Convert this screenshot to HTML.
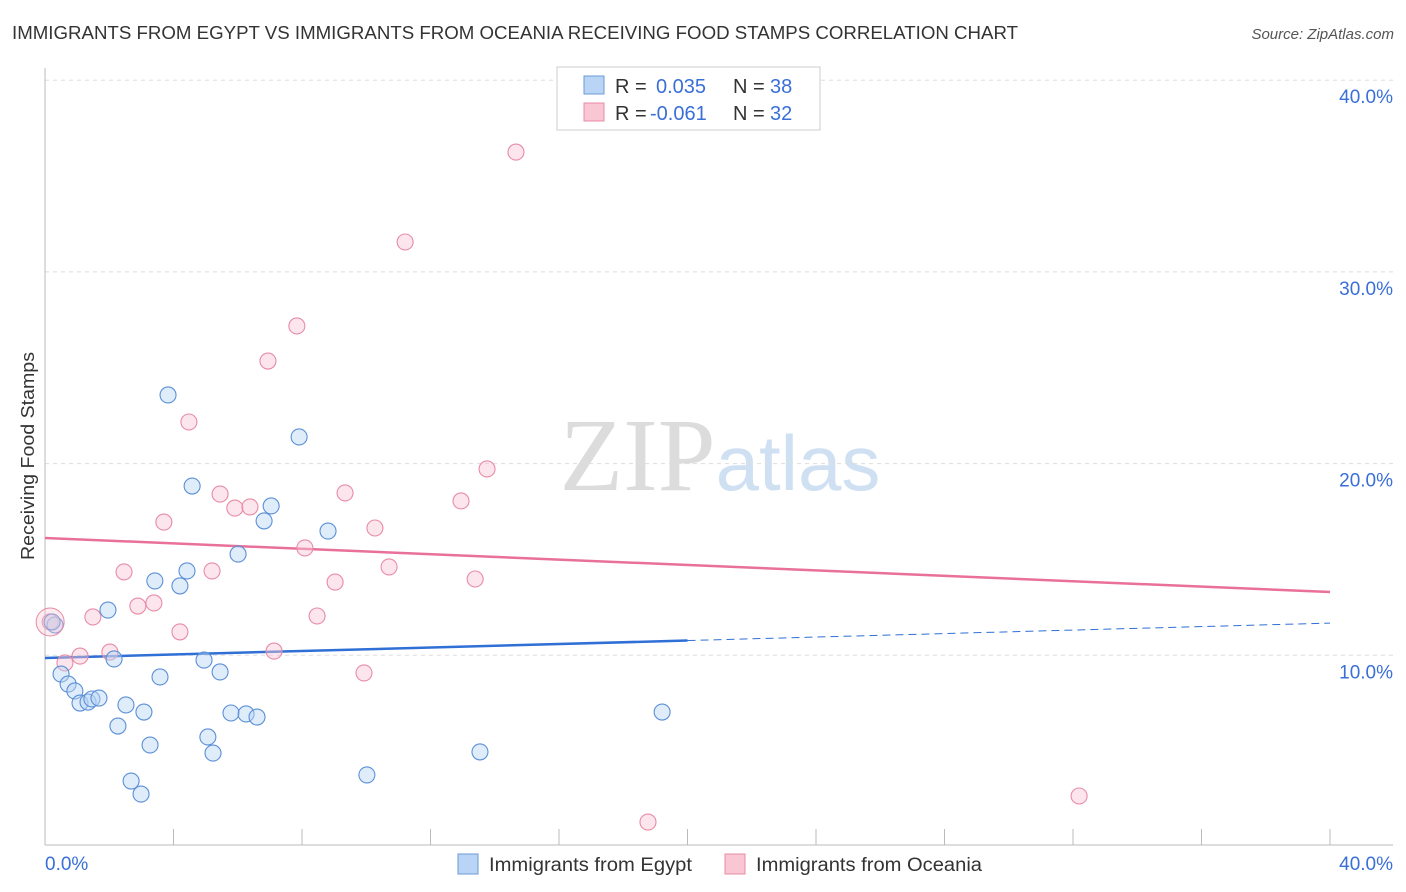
<!DOCTYPE html>
<html><head><meta charset="utf-8"><style>
body{margin:0;background:#fff;font-family:"Liberation Sans",sans-serif;}
svg{display:block}
</style></head><body>
<svg id="chart" width="1406" height="892" xmlns="http://www.w3.org/2000/svg">
<text x="12" y="39" font-size="18" fill="#333" textLength="1006" lengthAdjust="spacingAndGlyphs">IMMIGRANTS FROM EGYPT VS IMMIGRANTS FROM OCEANIA RECEIVING FOOD STAMPS CORRELATION CHART</text>
<text x="1394" y="39" font-size="15" fill="#555" text-anchor="end" font-style="italic">Source: ZipAtlas.com</text>
<text x="720" y="490" font-size="104" text-anchor="middle" fill="#ddd" font-family="Liberation Serif"><tspan fill="#dcdcdc">ZIP</tspan><tspan fill="#cfe0f3" font-family="Liberation Sans" font-size="78">atlas</tspan></text>
<text transform="translate(34,456) rotate(-90)" font-size="18" fill="#333" text-anchor="middle" textLength="208" lengthAdjust="spacingAndGlyphs">Receiving Food Stamps</text>
<g id="grid"></g><g id="axes"></g><g id="trend"></g><g id="pts"></g>
<g>
<rect x="557" y="67" width="263" height="63" fill="#fff" stroke="#ccc"/>
<rect x="584" y="76" width="20" height="18" fill="#b9d4f5" stroke="#6b9bd8"/>
<rect x="584" y="103" width="20" height="18" fill="#f9c6d4" stroke="#e88ba6"/>
<text x="615" y="93" font-size="20" fill="#333">R = <tspan fill="#3a6fd8" x="656">0.035</tspan><tspan x="733">N = </tspan><tspan fill="#3a6fd8" x="770">38</tspan></text>
<text x="615" y="120" font-size="20" fill="#333">R = <tspan fill="#3a6fd8" x="650">-0.061</tspan><tspan x="733">N = </tspan><tspan fill="#3a6fd8" x="770">32</tspan></text>
</g>
<g>
<rect x="458" y="854" width="20" height="20" fill="#b9d4f5" stroke="#6b9bd8"/>
<text x="489" y="871" font-size="19" fill="#333" textLength="203" lengthAdjust="spacingAndGlyphs">Immigrants from Egypt</text>
<rect x="725" y="854" width="20" height="20" fill="#f9c6d4" stroke="#e88ba6"/>
<text x="756" y="871" font-size="19" fill="#333" textLength="226" lengthAdjust="spacingAndGlyphs">Immigrants from Oceania</text>
</g>
<text x="45" y="870" font-size="19" fill="#3a6fd8">0.0%</text>
<text x="1393" y="870" font-size="19" fill="#3a6fd8" text-anchor="end">40.0%</text>
</svg>
<script>
const yTicks=[10,20,30,40];
const yTickLabels=["10.0%","20.0%","30.0%","40.0%"];
const egyptX=[0.31,0.22,0.50,0.72,0.93,1.09,1.34,1.46,1.68,1.96,2.15,2.27,2.52,2.68,2.99,3.08,3.27,3.42,3.58,3.83,4.20,4.42,4.58,4.95,5.07,5.23,5.45,5.79,6.01,6.26,6.60,6.82,7.04,7.91,8.81,10.02,13.54,19.21];
const egyptY=[11.58,11.74,9.02,8.50,8.14,7.51,7.56,7.72,7.77,12.36,9.81,6.31,7.41,3.44,2.76,7.04,5.32,13.88,8.87,23.58,13.62,14.40,18.83,9.75,5.74,4.90,9.13,6.99,15.28,6.94,6.78,17.01,17.79,21.39,16.48,3.76,4.96,7.04];
const oceaniaX=[0.16,0.62,1.09,1.49,2.02,2.46,2.89,3.39,3.70,4.20,4.48,5.20,5.45,5.91,6.38,6.94,7.13,7.84,8.09,8.47,9.03,9.34,9.93,10.27,10.71,11.21,12.95,13.39,13.76,14.66,18.77,32.19];
const oceaniaY=[11.74,9.60,9.96,12.00,10.17,14.35,12.57,12.73,16.95,11.22,22.17,14.40,18.41,17.68,17.74,25.35,10.22,27.18,15.60,12.05,13.82,18.47,9.08,16.64,14.61,31.56,18.05,13.98,19.72,36.25,1.30,2.66];
const egyptTrend=[9.86,11.68];
const oceaniaTrend=[16.12,13.30];
const NS="http://www.w3.org/2000/svg";
const X=v=>45+v*32.125, Y=v=>847-v*19.17;
function mk(t,a,p){const e=document.createElementNS(NS,t);for(const k in a)e.setAttribute(k,a[k]);document.getElementById(p).appendChild(e);return e;}
yTicks.forEach((t,i)=>{
 const l=mk('line',{x1:45,x2:1393,y1:Y(t),y2:Y(t),stroke:'#ddd','stroke-dasharray':'4,4'},'grid');
 
 
 const tx=mk('text',{x:1393,y:Y(t)+23,'font-size':19,fill:'#3a6fd8','text-anchor':'end'},'grid');
 tx.textContent=yTickLabels[i];
 
 
});
const ax=mk('line',{x1:45,x2:45,y1:68,y2:845,stroke:'#bbb'},'axes');


const bx=mk('line',{x1:45,x2:1393,y1:845,y2:845,stroke:'#bbb'},'axes');


for(let i=0;i<=10;i++){const t=mk('line',{x1:X(i*4),x2:X(i*4),y1:829,y2:845,stroke:'#bbb'},'axes');
 
 }
function dots(xs,ys,fill,stroke,name){xs.forEach((x,i)=>{const c=mk('circle',{cx:X(x),cy:Y(ys[i]),r:8,fill:fill,'fill-opacity':0.45,stroke:stroke,'stroke-width':1.1},'pts');
 
 });}
dots(oceaniaX,oceaniaY,'#f9c6d4','#e88ba6','oceania-point');
dots(egyptX,egyptY,'#b9d4f5','#5b8fd6','egypt-point');
const big=mk('circle',{cx:X(oceaniaX[0]),cy:Y(oceaniaY[0]),r:14,fill:'#f9c6d4','fill-opacity':0.35,stroke:'#e88ba6'},'pts');


const pt=mk('line',{x1:X(0),y1:Y(oceaniaTrend[0]),x2:X(40),y2:Y(oceaniaTrend[1]),stroke:'#e8709a','stroke-width':2.5},'trend');


const yAt=x=>egyptTrend[0]+(egyptTrend[1]-egyptTrend[0])*x/40;
const bt=mk('line',{x1:X(0),y1:Y(egyptTrend[0]),x2:X(20),y2:Y(yAt(20)),stroke:'#2f6fd6','stroke-width':2.5},'trend');


const bd=mk('line',{x1:X(20),y1:Y(yAt(20)),x2:X(40),y2:Y(egyptTrend[1]),stroke:'#2f6fd6','stroke-width':1,'stroke-dasharray':'8,5'},'trend');


</script>
</body></html>
